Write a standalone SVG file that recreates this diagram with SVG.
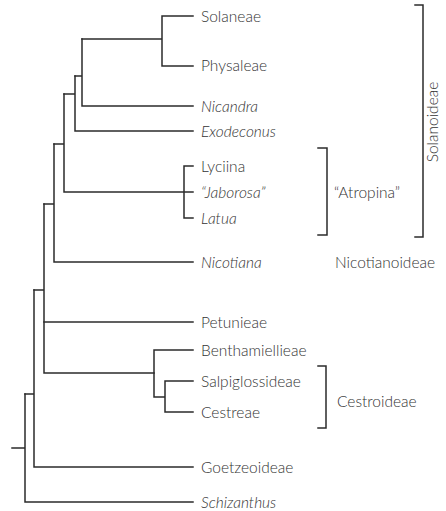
<svg xmlns="http://www.w3.org/2000/svg" width="446" height="511" viewBox="0 0 446 511">
<style>
.e{fill:none;stroke:#2b2b2b;stroke-width:1.5;stroke-linecap:square}
text{font-family:Lato,"Open Sans","Liberation Sans",sans-serif;font-size:15.5px;fill:#333;font-weight:300}
.i{font-style:italic}
</style>
<rect width="446" height="511" fill="#fff"/>
<g id="connectors" class="e">
<path d="M12,448H25M25,394V502H193"/>
<path d="M25,394H34M34,290V467H193"/>
<path d="M34,290H44M44,204V373H154"/>
<path d="M44,322H193"/>
<path d="M154,350V397H165M154,350H193M165,381V412H193M165,381H193"/>
<path d="M44,204H54M54,144V262H193"/>
<path d="M54,144H64M64,94V192H193"/>
<path d="M184,166V218M184,166H193M184,218H193"/>
<path d="M64,94H75M75,76V131H193"/>
<path d="M75,76H82M82,39V106H193"/>
<path d="M82,39H162M162,16V66H193M162,16H193"/>
</g>
<g id="labels">
<g id="n-solaneae"><text x="201" y="22">Solaneae</text></g>
<g id="n-physaleae"><text x="201" y="71">Physaleae</text></g>
<g id="n-nicandra"><text x="201" y="112" class="i">Nicandra</text></g>
<g id="n-exodeconus"><text x="201" y="137" class="i">Exodeconus</text></g>
<g id="n-lyciina"><text x="201" y="172">Lyciina</text></g>
<g id="n-jaborosa"><text x="201" y="198" class="i">“Jaborosa”</text></g>
<g id="n-latua"><text x="201" y="224" class="i">Latua</text></g>
<g id="n-nicotiana"><text x="201" y="268" class="i">Nicotiana</text></g>
<g id="n-petunieae"><text x="201" y="328">Petunieae</text></g>
<g id="n-benth"><text x="201" y="356">Benthamiellieae</text></g>
<g id="n-salpig"><text x="201" y="387">Salpiglossideae</text></g>
<g id="n-cestreae"><text x="201" y="418">Cestreae</text></g>
<g id="n-goetz"><text x="201" y="473">Goetzeoideae</text></g>
<g id="n-schiz"><text x="201" y="508" class="i">Schizanthus</text></g>
</g>
<g id="groups">
<g id="g-solanoideae"><path class="e" d="M415,5H423V237H415"/><text transform="translate(438,122) rotate(-90)" text-anchor="middle">Solanoideae</text></g>
<g id="g-atropina"><path class="e" d="M318,148H327V235H318"/><text x="334" y="198">“Atropina”</text></g>
<g id="g-nicotianoideae"><text x="335" y="268">Nicotianoideae</text></g>
<g id="g-cestroideae"><path class="e" d="M318,366H326V428H318"/><text x="337" y="407">Cestroideae</text></g>
</g>
</svg>
